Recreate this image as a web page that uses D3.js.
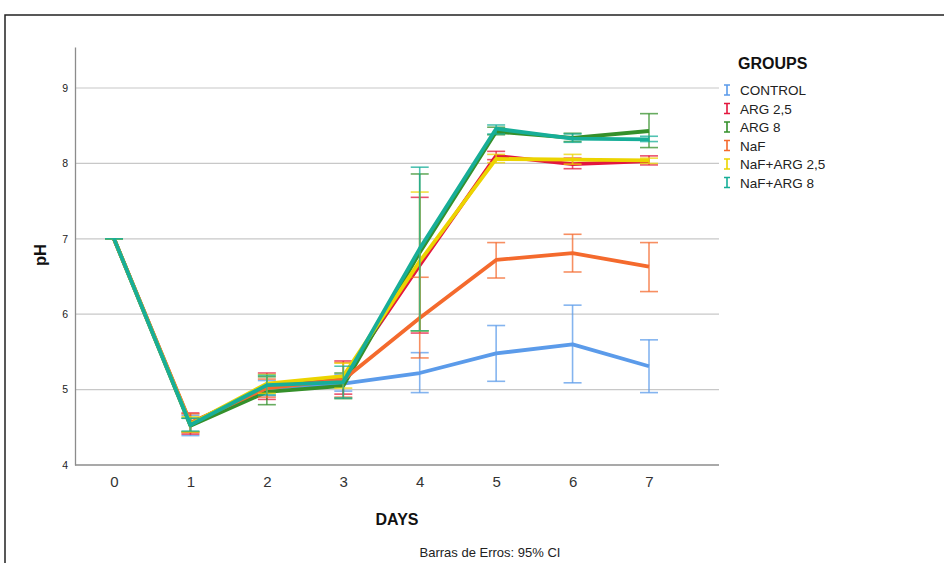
<!DOCTYPE html>
<html>
<head>
<meta charset="utf-8">
<script src="https://cdn.jsdelivr.net/npm/d3@7"></script>
<style>
  html, body { margin: 0; padding: 0; background: #fff; }
  svg { display: block; font-family: "Liberation Sans", Arial, sans-serif; }
</style>
</head>
<body>
<svg id="chart" width="944" height="563"></svg>
<script>
// Days of measurement and group names
const days = [0, 1, 2, 3, 4, 5, 6, 7];
const groups = ["CONTROL", "ARG 2,5", "ARG 8", "NaF", "NaF+ARG 2,5", "NaF+ARG 8"];
const groupColors = ["#5b9bea", "#e3173e", "#35902b", "#f46a2d", "#ecd400", "#17ae98"];
const yTicks = [4, 5, 6, 7, 8, 9];

// Mean pH and 95% CI bounds per group
const controlMean = [7.00, 4.53, 5.02, 5.08, 5.22, 5.48, 5.60, 5.31];
const controlLo   = [7.00, 4.39, 4.92, 4.98, 4.96, 5.11, 5.09, 4.96];
const controlHi   = [7.00, 4.66, 5.12, 5.20, 5.49, 5.85, 6.12, 5.66];

const arg25Mean = [7.00, 4.55, 5.04, 5.16, 6.65, 8.10, 7.99, 8.03];
const arg25Lo   = [7.00, 4.41, 4.87, 4.94, 5.75, 8.05, 7.93, 7.98];
const arg25Hi   = [7.00, 4.69, 5.22, 5.38, 7.55, 8.16, 8.07, 8.10];

const arg8Mean = [7.00, 4.52, 4.97, 5.05, 6.82, 8.42, 8.34, 8.43];
const arg8Lo   = [7.00, 4.44, 4.80, 4.88, 5.78, 8.38, 8.29, 8.21];
const arg8Hi   = [7.00, 4.62, 5.17, 5.22, 7.86, 8.48, 8.40, 8.66];

const nafMean = [7.00, 4.56, 5.02, 5.13, 5.95, 6.72, 6.81, 6.63];
const nafLo   = [7.00, 4.43, 4.90, 4.90, 5.42, 6.48, 6.56, 6.30];
const nafHi   = [7.00, 4.68, 5.14, 5.36, 6.49, 6.95, 7.06, 6.95];

const nafArg25Mean = [7.00, 4.54, 5.08, 5.18, 6.70, 8.06, 8.05, 8.04];
const nafArg25Lo   = [7.00, 4.44, 4.95, 5.02, 5.78, 8.01, 7.99, 8.00];
const nafArg25Hi   = [7.00, 4.64, 5.20, 5.35, 7.62, 8.12, 8.12, 8.07];

const nafArg8Mean = [7.00, 4.53, 5.06, 5.10, 6.87, 8.46, 8.33, 8.32];
const nafArg8Lo   = [7.00, 4.45, 4.93, 4.89, 5.78, 8.39, 8.28, 8.29];
const nafArg8Hi   = [7.00, 4.62, 5.19, 5.31, 7.95, 8.51, 8.39, 8.36];

const means = [controlMean, arg25Mean, arg8Mean, nafMean, nafArg25Mean, nafArg8Mean];
const lows  = [controlLo, arg25Lo, arg8Lo, nafLo, nafArg25Lo, nafArg8Lo];
const highs = [controlHi, arg25Hi, arg8Hi, nafHi, nafArg25Hi, nafArg8Hi];

const series = groups.map((name, i) => ({
  name,
  color: groupColors[i],
  points: days.map((d, j) => ({ day: d, mean: means[i][j], lo: lows[i][j], hi: highs[i][j] }))
}));

const svg = d3.select("#chart");

// Outer frame
svg.append("rect")
  .attr("x", 5).attr("y", 15).attr("width", 1000).attr("height", 700)
  .attr("fill", "none").attr("stroke", "#222").attr("stroke-width", 1.5);

const plotLeft = 75, plotRight = 719, plotBottom = 465, plotTop = 47;

const x = d3.scaleLinear().domain([0, 7]).range([114, 649]);
const y = d3.scaleLinear().domain([4, 9.544]).range([plotBottom, plotTop]);

// Horizontal gridlines
svg.append("g").selectAll("line")
  .data(yTicks.filter(t => t > 4))
  .join("line")
  .attr("x1", plotLeft).attr("x2", plotRight)
  .attr("y1", d => y(d)).attr("y2", d => y(d))
  .attr("stroke", "#c8c8c8").attr("stroke-width", 1.2);

// Y axis
const yAxis = d3.axisLeft(y).tickValues(yTicks).tickSize(0).tickPadding(7).tickFormat(d3.format("d"));
const gy = svg.append("g").attr("transform", `translate(${plotLeft},0)`).call(yAxis);
gy.select(".domain").attr("stroke", "#8c8c8c").attr("stroke-width", 1.3);
gy.selectAll("text").attr("font-size", 10.5).attr("fill", "#222")
  .attr("font-family", "Liberation Sans, Arial, sans-serif");

// X axis
const xAxis = d3.axisBottom(x).tickValues(days).tickSize(0).tickPadding(11).tickFormat(d3.format("d"));
const gx = svg.append("g").attr("transform", `translate(0,${plotBottom})`).call(xAxis);
gx.select(".domain").remove();
gx.selectAll("text").attr("font-size", 15).attr("fill", "#333")
  .attr("font-family", "Liberation Sans Narrow, Liberation Sans, Arial, sans-serif");
svg.append("line")
  .attr("x1", plotLeft).attr("x2", plotRight)
  .attr("y1", plotBottom).attr("y2", plotBottom)
  .attr("stroke", "#8c8c8c").attr("stroke-width", 1.3);

// Axis titles
svg.append("text")
  .attr("x", 397).attr("y", 525)
  .attr("text-anchor", "middle")
  .attr("font-size", 16).attr("font-weight", "bold").attr("fill", "#111")
  .text("DAYS");

svg.append("text")
  .attr("transform", "translate(46,255) rotate(-90)")
  .attr("text-anchor", "middle")
  .attr("font-size", 16.5).attr("font-weight", "bold").attr("fill", "#111")
  .text("pH");

svg.append("text")
  .attr("x", 490).attr("y", 557)
  .attr("text-anchor", "middle")
  .attr("font-size", 13).attr("fill", "#222")
  .text("Barras de Erros: 95% CI");

// Series: lines with error bars
const line = d3.line().x(d => x(d.day)).y(d => y(d.mean));
const capHalf = 9;

const gSeries = svg.append("g").selectAll("g")
  .data(series)
  .join("g");

gSeries.each(function (s) {
  const g = d3.select(this);
  const eb = g.append("g")
    .attr("stroke", s.color).attr("stroke-opacity", 0.75).attr("stroke-width", 1.6);
  eb.selectAll("line.v").data(s.points).join("line").attr("class", "v")
    .attr("x1", d => x(d.day)).attr("x2", d => x(d.day))
    .attr("y1", d => y(d.lo)).attr("y2", d => y(d.hi));
  eb.selectAll("line.top").data(s.points).join("line").attr("class", "top")
    .attr("x1", d => x(d.day) - capHalf).attr("x2", d => x(d.day) + capHalf)
    .attr("y1", d => y(d.hi)).attr("y2", d => y(d.hi));
  eb.selectAll("line.bot").data(s.points).join("line").attr("class", "bot")
    .attr("x1", d => x(d.day) - capHalf).attr("x2", d => x(d.day) + capHalf)
    .attr("y1", d => y(d.lo)).attr("y2", d => y(d.lo));
  g.append("path")
    .datum(s.points)
    .attr("d", line)
    .attr("fill", "none")
    .attr("stroke", s.color)
    .attr("stroke-width", 3.8)
    .attr("stroke-linejoin", "round");
});

// Legend
const legend = svg.append("g");
legend.append("text")
  .attr("x", 738).attr("y", 69)
  .attr("font-size", 16).attr("font-weight", "bold").attr("fill", "#111")
  .text("GROUPS");

const items = legend.selectAll("g.item")
  .data(series)
  .join("g").attr("class", "item")
  .attr("transform", (d, i) => `translate(0,${90 + i * 18.5})`);

items.append("path")
  .attr("d", "M724,-5H730M727,-5V5M724,5H730")
  .attr("stroke", d => d.color).attr("stroke-width", 1.6).attr("fill", "none");

items.append("text")
  .attr("x", 740).attr("y", 5)
  .attr("font-size", 13.5).attr("fill", "#222")
  .text(d => d.name);
</script>
</body>
</html>
